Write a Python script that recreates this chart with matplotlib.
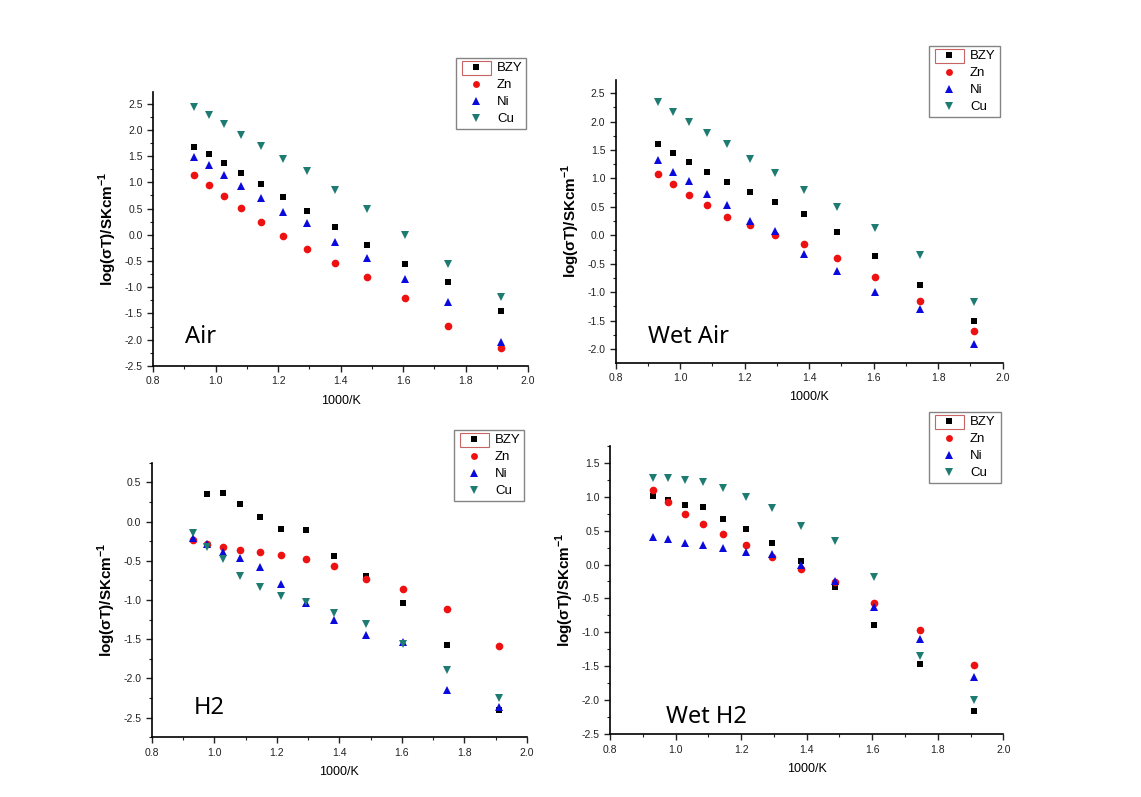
import numpy as np
import matplotlib
matplotlib.use("Agg")
import matplotlib.pyplot as plt
from matplotlib.ticker import MultipleLocator, FormatStrFormatter
from matplotlib.patches import Rectangle

plt.rcParams["font.family"] = ["Liberation Sans", "DejaVu Sans"]
plt.rcParams["mathtext.fontset"] = "custom"
plt.rcParams["mathtext.rm"] = "Liberation Sans"
plt.rcParams["mathtext.bf"] = "Liberation Sans:bold"

# 1000/T values (same for every panel)
x_vals = [0.932, 0.978, 1.028, 1.083, 1.145, 1.215, 1.294, 1.383, 1.486, 1.605, 1.745, 1.912]

series_names = ["BZY", "Zn", "Ni", "Cu"]

# Air
air_bzy = [1.68, 1.54, 1.36, 1.18, 0.96, 0.72, 0.46, 0.15, -0.20, -0.55, -0.90, -1.45]
air_zn = [1.13, 0.94, 0.73, 0.51, 0.24, -0.03, -0.28, -0.54, -0.81, -1.21, -1.74, -2.16]
air_ni = [1.48, 1.32, 1.14, 0.93, 0.70, 0.44, 0.22, -0.13, -0.45, -0.85, -1.28, -2.04]
air_cu = [2.44, 2.28, 2.11, 1.90, 1.69, 1.45, 1.21, 0.85, 0.49, -0.01, -0.56, -1.19]

# Wet air
wair_bzy = [1.60, 1.45, 1.28, 1.11, 0.94, 0.77, 0.59, 0.37, 0.06, -0.37, -0.88, -1.50]
wair_zn = [1.08, 0.90, 0.70, 0.53, 0.33, 0.18, 0.01, -0.16, -0.40, -0.74, -1.16, -1.69]
wair_ni = [1.32, 1.12, 0.95, 0.73, 0.53, 0.26, 0.07, -0.32, -0.63, -1.00, -1.29, -1.91]
wair_cu = [2.34, 2.17, 2.00, 1.79, 1.61, 1.35, 1.09, 0.79, 0.49, 0.12, -0.34, -1.17]

# H2 (no BZY point at the highest temperature)
h2_bzy = [np.nan, 0.35, 0.36, 0.22, 0.06, -0.09, -0.11, -0.44, -0.69, -1.04, -1.57, -2.40]
h2_zn = [-0.24, -0.28, -0.32, -0.36, -0.39, -0.42, -0.48, -0.57, -0.73, -0.86, -1.11, -1.58]
h2_ni = [-0.21, -0.28, -0.39, -0.46, -0.58, -0.80, -1.04, -1.26, -1.45, -1.54, -2.15, -2.36]
h2_cu = [-0.15, -0.33, -0.48, -0.69, -0.83, -0.95, -1.02, -1.16, -1.31, -1.56, -1.89, -2.25]

# Wet H2
wh2_bzy = [1.01, 0.95, 0.88, 0.84, 0.67, 0.52, 0.32, 0.05, -0.33, -0.89, -1.47, -2.15]
wh2_zn = [1.09, 0.92, 0.74, 0.60, 0.45, 0.29, 0.11, -0.06, -0.26, -0.56, -0.97, -1.48]
wh2_ni = [0.41, 0.38, 0.32, 0.29, 0.24, 0.19, 0.16, 0.00, -0.24, -0.63, -1.09, -1.65]
wh2_cu = [1.28, 1.28, 1.24, 1.22, 1.13, 0.99, 0.83, 0.57, 0.34, -0.18, -1.34, -2.00]

styles = {
    "BZY": dict(marker="s", color="black", ms=5),
    "Zn": dict(marker="o", color="#ee1111", ms=5.5),
    "Ni": dict(marker="^", color="#0a0adc", ms=6),
    "Cu": dict(marker="v", color="#1e7b72", ms=6),
}

# panel: (axes rect, ylim, condition label, label pos, legend box px, series)
panels = [
    ([0.1341, 0.5408, 0.3287, 0.3438], (-2.5, 2.72), "Air", (185, 343),
     (456, 58, 70, 70), [air_bzy, air_zn, air_ni, air_cu]),
    ([0.5396, 0.5449, 0.3392, 0.3547], (-2.24, 2.73), "Wet Air", (648, 343),
     (929, 46, 71, 72), [wair_bzy, wair_zn, wair_ni, wair_cu]),
    ([0.1330, 0.0749, 0.3287, 0.3445], (-2.75, 0.75), "H2", (194, 714),
     (454, 430, 70, 71), [h2_bzy, h2_zn, h2_ni, h2_cu]),
    ([0.5346, 0.0787, 0.3447, 0.3621], (-2.5, 1.75), "Wet H2", (666, 723),
     (929, 412, 72, 73), [wh2_bzy, wh2_zn, wh2_ni, wh2_cu]),
]

W, H = 1141, 797
fig = plt.figure(figsize=(W / 100, H / 100), dpi=100)

for rect, ylim, cond, (tx, ty), (lx, ly, lw, lh), data in panels:
    ax = fig.add_axes(rect)
    handles = []
    for name, yv in zip(series_names, data):
        st = styles[name]
        h, = ax.plot(x_vals, yv, linestyle="none", marker=st["marker"],
                     color=st["color"], markersize=st["ms"], markeredgewidth=0,
                     label=name)
        handles.append(h)
    ax.set_xlim(0.8, 2.0)
    ax.set_ylim(*ylim)
    ax.xaxis.set_major_locator(MultipleLocator(0.2))
    ax.xaxis.set_minor_locator(MultipleLocator(0.1))
    ax.yaxis.set_major_locator(MultipleLocator(0.5))
    ax.yaxis.set_minor_locator(MultipleLocator(0.25))
    ax.spines["top"].set_visible(False)
    ax.spines["right"].set_visible(False)
    ax.spines["left"].set_linewidth(1.2)
    ax.spines["bottom"].set_linewidth(1.2)
    ax.tick_params(which="both", direction="out", labelsize=7.5, colors="#222222")
    ax.tick_params(which="major", length=4, width=1)
    ax.tick_params(which="minor", length=2.5, width=0.8)
    ax.xaxis.set_major_formatter(FormatStrFormatter("%.1f"))
    ax.yaxis.set_major_formatter(FormatStrFormatter("%.1f"))
    ax.set_xlabel("1000/K", fontsize=9, labelpad=6)
    ax.set_ylabel("log(σT)/SKcm$^{\\mathbf{-1}}$", fontsize=11, fontweight="bold",
                  labelpad=4)
    fig.text(tx / W, 1 - ty / H, cond, fontsize=17, ha="left", va="baseline",
             family=["Noto Sans", "DejaVu Sans"])

    # legend box in figure coords (lx, ly = top-left corner in pixels)
    leg = fig.legend(handles=handles, labels=series_names,
                     loc="upper left",
                     bbox_to_anchor=(lx / W, 1 - (ly + lh) / H, lw / W, lh / H),
                     mode="expand", fontsize=9.5, frameon=True, fancybox=False,
                     edgecolor="#666666", handlelength=2.4, handletextpad=0.4,
                     borderpad=0.3, labelspacing=0.36, borderaxespad=0,
                     markerscale=0.9)
    leg.get_frame().set_linewidth(1.0)
    # red selection box around the first legend handle (as in the source image)
    fig.patches.append(Rectangle(((lx + 6) / W, 1 - (ly + 17) / H), 29 / W, 14 / H,
                                 transform=fig.transFigure, fill=False,
                                 edgecolor="#c86464", linewidth=0.8, zorder=10))

fig.savefig("out.png", dpi=100)
